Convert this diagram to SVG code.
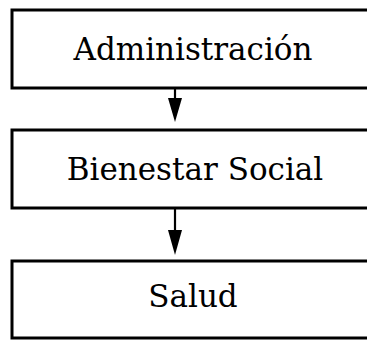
<svg xmlns="http://www.w3.org/2000/svg" width="367" height="340" viewBox="0 0 367 340">
  <style>
    .box { fill: #ffffff; stroke: #000000; stroke-width: 3; }
    .label { font-family: "DejaVu Serif", "Liberation Serif", serif; font-size: 31px; fill: #000000; text-anchor: middle; }
    .conn { stroke: #000000; stroke-width: 2.2; fill: none; }
  </style>
  <defs>
    <marker id="arrow" viewBox="0 0 14 24" refX="14" refY="7" markerWidth="24" markerHeight="14" markerUnits="userSpaceOnUse" orient="auto">
      <path d="M0,0 L24,7 L0,14 Z" fill="#000000"/>
    </marker>
  </defs>
  <rect width="367" height="340" fill="#ffffff"/>
  <g id="connectors">
    <line class="conn" x1="175" y1="89" x2="175" y2="100"/>
    <path d="M168,98 L182,98 L175,122 Z" fill="#000000"/>
    <line class="conn" x1="175" y1="209" x2="175" y2="232"/>
    <path d="M168,230 L182,230 L175,255 Z" fill="#000000"/>
  </g>
  <g id="node-administracion">
    <rect class="box" x="12" y="10" width="362" height="78"/>
    <text class="label" x="193" y="60">Administración</text>
  </g>
  <g id="node-bienestar">
    <rect class="box" x="12" y="130" width="362" height="78"/>
    <text class="label" x="195" y="180">Bienestar Social</text>
  </g>
  <g id="node-salud">
    <rect class="box" x="12" y="261" width="362" height="77"/>
    <text class="label" x="193" y="307">Salud</text>
  </g>
</svg>
